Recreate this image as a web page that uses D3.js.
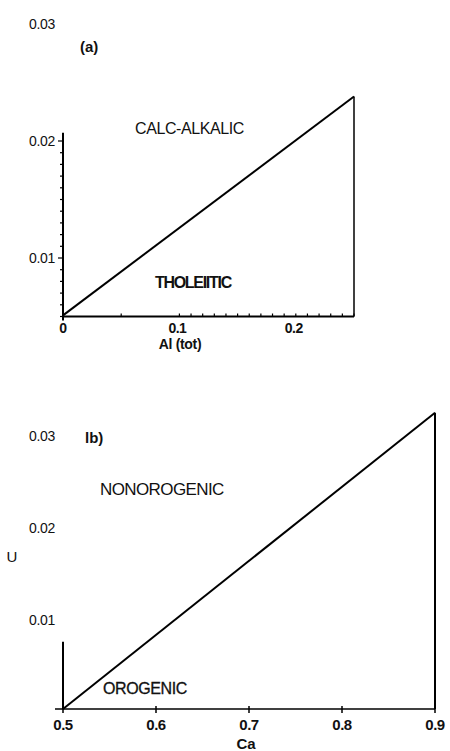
<!DOCTYPE html>
<html><head><meta charset="utf-8">
<script src="https://cdn.jsdelivr.net/npm/d3@7"></script>
<style>
body{margin:0;background:#fff;}
svg{display:block;}
text{font-family:"Liberation Sans",Arial,sans-serif;fill:#111;}
</style></head>
<body>
<svg id="c" width="450" height="751"></svg>
<script>
// Panel (a): Al(tot) vs U
const aXDomain = [0, 0.25];
const aYDomain = [0.005, 0.03];
const aXTickLabels = [0, 0.1, 0.2];
const aXMinorTicks = [0.05, 0.1, 0.11, 0.12, 0.13, 0.14, 0.15, 0.16, 0.17, 0.18, 0.19, 0.2, 0.21, 0.22, 0.23, 0.24, 0.25];
const aYTickLabels = [0.01, 0.02, 0.03];
const aYMinorTicks = [0.005,0.006,0.007,0.008,0.009,0.01,0.011,0.012,0.013,0.014,0.015,0.016,0.017,0.018,0.019,0.02];
const aBoundaryX = [0, 0.25];
const aBoundaryY = [0.0051, 0.0238];
const aYAxisTop = 0.0207;

// Panel (b): Ca vs U
const bXDomain = [0.5, 0.9];
const bYDomain = [0, 0.03];
const bXTickLabels = [0.5, 0.6, 0.7, 0.8, 0.9];
const bYTickLabels = [0.01, 0.02, 0.03];
const bBoundaryX = [0.5, 0.9];
const bBoundaryY = [0, 0.0322];
const bYAxisTop = 0.0073;

const svg = d3.select("#c");

// ---------- Panel (a) ----------
const ax = d3.scaleLinear().domain(aXDomain).range([63, 354]);
const ay = d3.scaleLinear().domain([0.01, 0.02]).range([258, 141]);
const aBase = ay(aYDomain[0]);

const ga = svg.append("g");
ga.append("line").attr("x1", ax(0)).attr("x2", ax(0))
  .attr("y1", aBase).attr("y2", ay(aYAxisTop))
  .attr("stroke", "#000").attr("stroke-width", 2);
ga.selectAll(".aym").data(aYMinorTicks).join("line")
  .attr("x1", d => ax(0) - (Math.abs(d*100 - Math.round(d*100)) < 1e-6 ? 5 : 3))
  .attr("x2", ax(0)).attr("y1", d => ay(d)).attr("y2", d => ay(d))
  .attr("stroke", "#000").attr("stroke-width", 1.2);
ga.selectAll(".ayl").data(aYTickLabels).join("text")
  .attr("x", 55).attr("y", d => ay(d)).attr("dy", "0.35em")
  .attr("text-anchor", "end").attr("font-size", 14)
  .style("letter-spacing", "-0.3px")
  .text(d => d3.format(".2f")(d));
ga.append("line").attr("x1", ax(0)).attr("x2", ax(0.25))
  .attr("y1", aBase).attr("y2", aBase)
  .attr("stroke", "#000").attr("stroke-width", 2);
ga.selectAll(".axm").data(aXMinorTicks).join("line")
  .attr("x1", d => ax(d)).attr("x2", d => ax(d))
  .attr("y1", aBase).attr("y2", aBase - 3)
  .attr("stroke", "#000").attr("stroke-width", 1.2);
ga.append("line").attr("x1", ax(0)).attr("x2", ax(0)).attr("y1", aBase).attr("y2", aBase + 4)
  .attr("stroke", "#000").attr("stroke-width", 2);
ga.selectAll(".axl").data(aXTickLabels).join("text")
  .attr("x", d => ax(d) + (d === 0 ? 0 : -2)).attr("y", aBase + 16)
  .attr("text-anchor", "middle").attr("font-size", 14).attr("font-weight", "bold")
  .style("letter-spacing", "-0.5px")
  .text(d => d === 0 ? "0" : d3.format(".1f")(d));
ga.append("text").attr("x", 180).attr("y", aBase + 32)
  .attr("text-anchor", "middle").attr("font-size", 14).attr("font-weight", "bold")
  .style("letter-spacing", "-0.3px").text("Al (tot)");
ga.append("path")
  .attr("d", d3.line().x(d => ax(d[0])).y(d => ay(d[1]))(aBoundaryX.map((x, i) => [x, aBoundaryY[i]])))
  .attr("stroke", "#000").attr("stroke-width", 2).attr("fill", "none");
ga.append("line").attr("x1", ax(0.25)).attr("x2", ax(0.25))
  .attr("y1", aBase).attr("y2", ay(aBoundaryY[1]))
  .attr("stroke", "#000").attr("stroke-width", 1.5);
ga.append("text").attr("x", 80).attr("y", 52).attr("font-size", 15).attr("font-weight", "bold").text("(a)");
ga.append("text").attr("x", 135).attr("y", 134).attr("font-size", 16).style("letter-spacing", "-0.4px").text("CALC-ALKALIC");
ga.append("text").attr("x", 155).attr("y", 288).attr("font-size", 16).attr("font-weight", "bold").style("letter-spacing", "-1.3px").text("THOLEIITIC");

// ---------- Panel (b) ----------
const bx = d3.scaleLinear().domain(bXDomain).range([63, 435]);
const by = d3.scaleLinear().domain([0, 0.01]).range([709, 617]);
const gb = svg.append("g");
gb.append("line").attr("x1", 55).attr("x2", bx(0.9)).attr("y1", by(0)).attr("y2", by(0))
  .attr("stroke", "#000").attr("stroke-width", 1.5);
gb.selectAll(".bxt").data(bXTickLabels).join("line")
  .attr("x1", d => bx(d)).attr("x2", d => bx(d))
  .attr("y1", d => d === 0.5 || d === 0.9 ? by(0) : by(0) - 3).attr("y2", by(0) + 4)
  .attr("stroke", "#000").attr("stroke-width", 1.5);
gb.selectAll(".bxl").data(bXTickLabels).join("text")
  .attr("x", d => bx(d)).attr("y", by(0) + 21)
  .attr("text-anchor", "middle").attr("font-size", 15).attr("font-weight", "bold")
  .style("letter-spacing", "-0.5px")
  .text(d => d3.format(".1f")(d));
gb.append("text").attr("x", 246).attr("y", 749).attr("text-anchor", "middle")
  .attr("font-size", 15).attr("font-weight", "bold").text("Ca");
gb.append("line").attr("x1", bx(0.5)).attr("x2", bx(0.5)).attr("y1", by(0)).attr("y2", by(bYAxisTop))
  .attr("stroke", "#000").attr("stroke-width", 2);
gb.selectAll(".byl").data(bYTickLabels).join("text")
  .attr("x", 55).attr("y", d => by(d) + 3).attr("dy", "0.35em")
  .attr("text-anchor", "end").attr("font-size", 14)
  .style("letter-spacing", "-0.3px")
  .text(d => d3.format(".2f")(d));
gb.append("text").attr("x", 12).attr("y", 557).attr("dy", "0.35em")
  .attr("text-anchor", "middle").attr("font-size", 15).text("U");
gb.append("path")
  .attr("d", d3.line().x(d => bx(d[0])).y(d => by(d[1]))(bBoundaryX.map((x, i) => [x, bBoundaryY[i]])))
  .attr("stroke", "#000").attr("stroke-width", 2).attr("fill", "none");
gb.append("line").attr("x1", bx(0.9)).attr("x2", bx(0.9)).attr("y1", by(0)).attr("y2", by(bBoundaryY[1]))
  .attr("stroke", "#000").attr("stroke-width", 2);
gb.append("text").attr("x", 85).attr("y", 443).attr("font-size", 15).attr("font-weight", "bold").text("lb)");
gb.append("text").attr("x", 100).attr("y", 495).attr("font-size", 17).style("letter-spacing", "-0.6px").text("NONOROGENIC");
gb.append("text").attr("x", 103).attr("y", 694).attr("font-size", 16).style("letter-spacing", "-0.4px")
  .attr("stroke", "#111").attr("stroke-width", 0.3).text("OROGENIC");
</script>
</body></html>
